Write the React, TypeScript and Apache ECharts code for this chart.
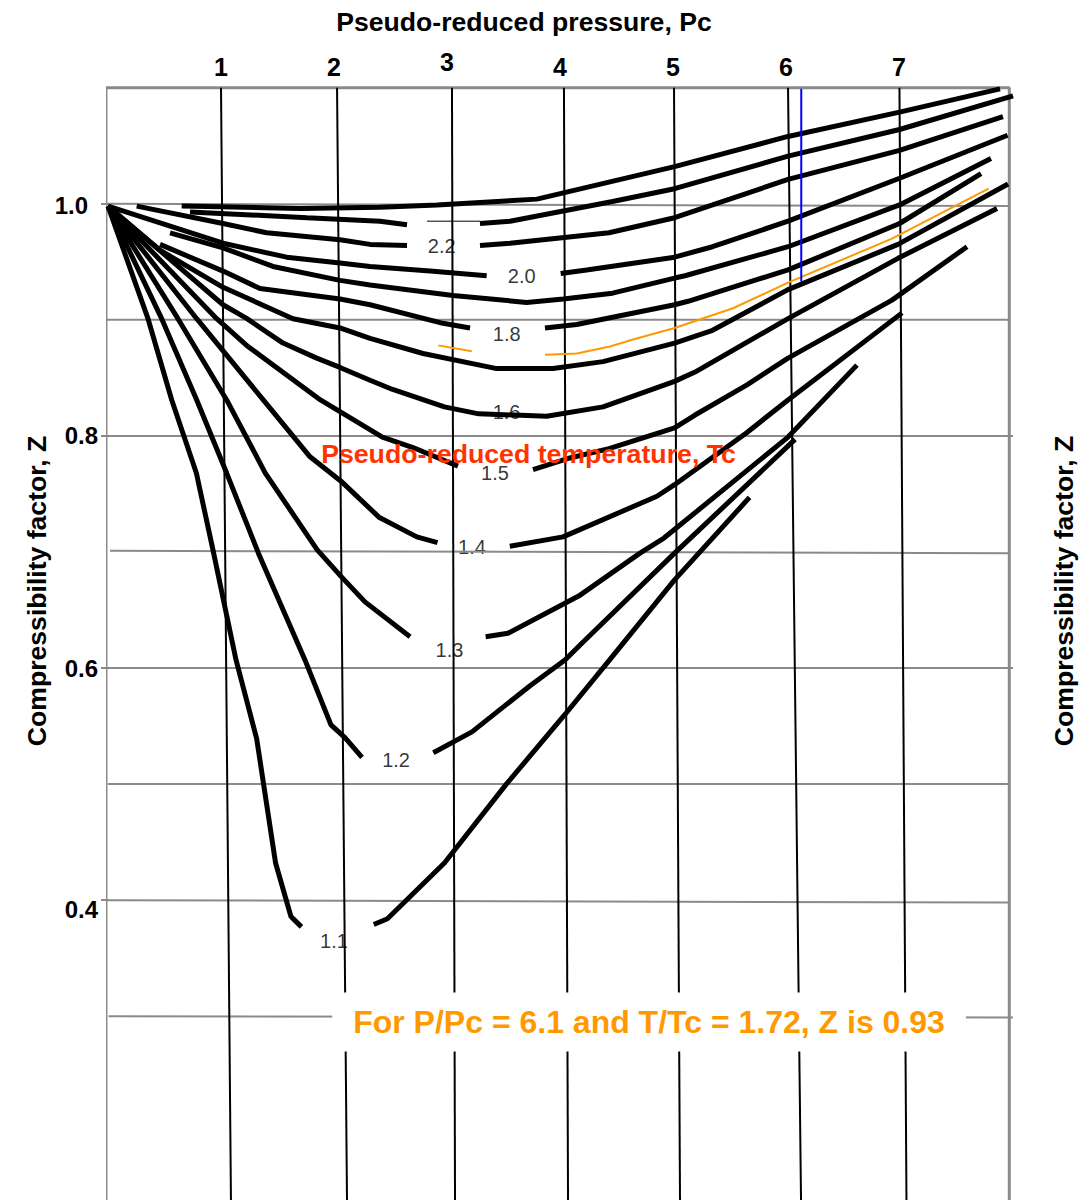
import { useEffect, useRef } from "react";
import * as echarts from "echarts";

const FONT = '"Liberation Sans", Arial, Helvetica, sans-serif';

// Axis ranges (pseudo-reduced pressure on x, compressibility factor Z on y)
const P_MIN = 0;
const P_MAX = 8;
const Z_MAX = 1.1;
const Z_MIN = 0.1417;

const P_TICKS = [1, 2, 3, 4, 5, 6, 7];
const Z_TICKS = [0.4, 0.6, 0.8, 1.0];

// Hand-drawn grid lines (slightly tilted in the original)
const H_GRID_Z_LEFT = [1.0, 0.9, 0.8, 0.701, 0.6, 0.5, 0.4, 0.3];
const H_GRID_Z_RIGHT = [0.998, 0.9, 0.8, 0.699, 0.6, 0.5, 0.398, 0.299];
const H_GRID_P_LEFT = [-0.01, -0.01, -0.071, 0.018, -0.071, -0.003, 0.0, 0.005];
const H_GRID_P_RIGHT = [7.974, 7.974, 8.009, 7.974, 8.009, 7.974, 7.974, 8.009];
const V_GRID_P_TOP = [1.0, 2.027, 3.044, 4.035, 5.009, 6.018, 7.004];
const V_GRID_P_BOTTOM = [1.088, 2.115, 3.071, 4.071, 5.062, 6.133, 7.066];
const FRAME_P_LEFT = -0.018;
const FRAME_P_RIGHT = 7.976;

// Isotherm curves (Tpr). "a" = left of the label gap, "b" = right of it.
const line30 = [[0.652, 0.998], [1.699, 0.996], [2.407, 0.997], [2.912, 0.999], [3.796, 1.004], [5.014, 1.032], [6.018, 1.058], [7.005, 1.079], [7.894, 1.099]];
const line24a = [[0.726, 0.993], [1.761, 0.988], [2.407, 0.985], [2.646, 0.982]];
const line24b = [[3.292, 0.983], [3.558, 0.985], [4.465, 1.002], [5.014, 1.013], [6.018, 1.041], [7.005, 1.064], [8.009, 1.093]];
const gapStroke = [[2.823, 0.985], [3.292, 0.985]];
const line22a = [[0.254, 0.998], [1.018, 0.983], [1.404, 0.975], [2.053, 0.969], [2.319, 0.965], [2.646, 0.964]];
const line22b = [[3.292, 0.964], [3.558, 0.966], [4.434, 0.975], [5.014, 0.988], [5.35, 0.999], [6.018, 1.021], [7.005, 1.046], [7.92, 1.075]];
const line20a = [[0, 0.998], [1.018, 0.966], [1.581, 0.954], [2.053, 0.949], [2.319, 0.946], [2.85, 0.942], [3.351, 0.938]];
const line20b = [[4.006, 0.94], [4.236, 0.943], [5.014, 0.954], [5.35, 0.963], [6.018, 0.985], [7.005, 1.022], [7.961, 1.059]];
const line19 = [[0.549, 0.975], [1.018, 0.962], [1.46, 0.946], [2.053, 0.934], [2.319, 0.93], [3.053, 0.921], [3.705, 0.915], [4.029, 0.918], [4.465, 0.923], [5.014, 0.936], [5.106, 0.938], [6.018, 0.963], [7.005, 0.999], [7.814, 1.039]];
const line18a = [[0.46, 0.965], [1.018, 0.942], [1.345, 0.927], [2.053, 0.918], [2.319, 0.913], [2.965, 0.897], [3.204, 0.893]];
const line18b = [[3.867, 0.893], [4.148, 0.896], [5.014, 0.913], [5.133, 0.916], [6.018, 0.943], [7.005, 0.983], [7.726, 1.026]];
const line172a = [[2.923, 0.878], [3.219, 0.873]];
const line172b = [[3.867, 0.87], [4.148, 0.871], [4.442, 0.877], [4.646, 0.883], [5.014, 0.893], [5.531, 0.91], [6.018, 0.932], [6.938, 0.97], [7.793, 1.013]];
const line17 = [[0, 0.998], [0.46, 0.96], [1.018, 0.928], [1.637, 0.901], [2.053, 0.893], [2.319, 0.884], [2.788, 0.871], [3.44, 0.858], [3.938, 0.858], [4.381, 0.864], [5.014, 0.88], [5.35, 0.891], [6.018, 0.926], [6.991, 0.965], [7.965, 1.017]];
const line16 = [[0, 0.998], [1.018, 0.913], [1.23, 0.901], [1.549, 0.88], [1.847, 0.867], [2.053, 0.859], [2.319, 0.848], [2.519, 0.84], [2.977, 0.825], [3.281, 0.819], [3.882, 0.817], [4.381, 0.825], [5.014, 0.847], [5.195, 0.855], [6.018, 0.901], [6.991, 0.953], [7.867, 0.996]];
const line15a = [[0, 0.998], [0.962, 0.901], [1.239, 0.877], [1.88, 0.831], [2.428, 0.799], [2.699, 0.79], [3.097, 0.774]];
const line15b = [[3.761, 0.771], [4.088, 0.781], [4.434, 0.789], [5.014, 0.807], [5.195, 0.818], [5.655, 0.844], [6.018, 0.867], [6.938, 0.917], [7.602, 0.963]];
const line14a = [[0, 0.998], [0.785, 0.901], [1.374, 0.831], [1.788, 0.782], [2.062, 0.761], [2.398, 0.73], [2.733, 0.713], [2.916, 0.708]];
const line14b = [[3.556, 0.705], [4.027, 0.713], [4.858, 0.748], [5.014, 0.758], [5.655, 0.803], [6.018, 0.831], [7.027, 0.906]];
const line13a = [[0, 0.998], [0.619, 0.901], [1.05, 0.831], [1.392, 0.768], [1.85, 0.702], [2.062, 0.679], [2.274, 0.657], [2.673, 0.627]];
const line13b = [[3.342, 0.627], [3.54, 0.63], [4.165, 0.662], [4.708, 0.699], [4.92, 0.712], [6.018, 0.799], [6.628, 0.861]];
const line12a = [[0, 0.998], [0.475, 0.901], [0.785, 0.831], [1.05, 0.768], [1.331, 0.699], [1.743, 0.607], [1.973, 0.551], [2.097, 0.54], [2.248, 0.523]];
const line12b = [[2.879, 0.527], [3.221, 0.545], [3.738, 0.585], [4.044, 0.607], [4.189, 0.621], [5.014, 0.699], [6.08, 0.797]];
const line11a = [[0, 0.998], [0.354, 0.901], [0.564, 0.831], [0.782, 0.768], [0.935, 0.699], [1.133, 0.607], [1.316, 0.539], [1.483, 0.432], [1.619, 0.386], [1.712, 0.377]];
const line11b = [[2.352, 0.379], [2.473, 0.384], [2.977, 0.432], [3.525, 0.5], [4.044, 0.56], [4.439, 0.607], [5.014, 0.676], [5.677, 0.747]];

// Reading for the worked example: P/Pc = 6.1 up to the 1.72 curve
const BLUE_P = 6.135;
const BLUE_Z = [1.099, 0.933];

// Curve labels
const T_LABELS = ["2.2", "2.0", "1.8", "1.6", "1.5", "1.4", "1.3", "1.2", "1.1"];
const LABEL_P = [2.953, 3.661, 3.528, 3.527, 3.425, 3.221, 3.022, 2.549, 2.0];
const LABEL_Z = [0.9636, 0.9378, 0.8876, 0.8206, 0.7683, 0.7046, 0.6156, 0.5208, 0.3652];

const BLACK_SEGMENTS = [
  line30, line24a, line24b, line22a, line22b, line20a, line20b, line19,
  line18a, line18b, line17, line16, line15a, line15b, line14a, line14b,
  line13a, line13b, line12a, line12b, line11a, line11b,
];
const ORANGE_SEGMENTS = [line172a, line172b];

const GRID_GRAY = "#8a8a8a";

function lineSeries(data: any[], color: string, width: number, z = 2) {
  return {
    type: "line",
    data,
    symbol: "none",
    showSymbol: false,
    clip: false,
    silent: true,
    z,
    lineStyle: { color, width, cap: "butt" },
    emphasis: { disabled: true },
  };
}

function buildOption() {
  const series: any[] = [];

  series.push({
    type: "scatter",
    data: LABEL_P.map((p, i) => [p, LABEL_Z[i]]),
    symbolSize: 1,
    itemStyle: { color: "rgba(0,0,0,0)" },
    silent: true,
    z: 1,
    label: {
      show: true,
      position: "inside",
      formatter: (p: any) => T_LABELS[p.dataIndex],
      fontSize: 20,
      fontFamily: FONT,
      color: "#000",
    },
  });

  H_GRID_Z_LEFT.forEach((zl, i) => {
    series.push(lineSeries([[H_GRID_P_LEFT[i], zl], [H_GRID_P_RIGHT[i], H_GRID_Z_RIGHT[i]]], GRID_GRAY, 2));
  });
  // frame
  series.push(lineSeries([[FRAME_P_LEFT, Z_MIN], [FRAME_P_LEFT, Z_MAX], [FRAME_P_RIGHT, Z_MAX], [FRAME_P_RIGHT, Z_MIN]], GRID_GRAY, 3));

  V_GRID_P_TOP.forEach((pt, i) => {
    series.push(lineSeries([[pt, Z_MAX], [V_GRID_P_BOTTOM[i], Z_MIN]], "#000", 2));
  });

  series.push(lineSeries(gapStroke, "#000", 1));
  BLACK_SEGMENTS.forEach((seg) => series.push(lineSeries(seg, "#000", 5)));
  ORANGE_SEGMENTS.forEach((seg) => series.push(lineSeries(seg, "#FF9900", 2)));
  series.push(lineSeries([[BLUE_P, BLUE_Z[0]], [BLUE_P, BLUE_Z[1]]], "#0000FF", 2));

  const txt = (text: string, x: number, y: number, size: number, color: string, weight: string, rotation = 0, extra: any = {}) => ({
    type: "text",
    x,
    y,
    rotation,
    z: 100,
    silent: true,
    style: {
      text,
      fontSize: size,
      fontWeight: weight,
      fontFamily: FONT,
      fill: color,
      align: "center",
      verticalAlign: "middle",
      textAlign: "center",
      textVerticalAlign: "middle",
      ...extra,
    },
  });

  return {
    animation: false,
    backgroundColor: "#fff",
    grid: { left: 108, right: 69, top: 87.7, bottom: 0, containLabel: false, outerBoundsMode: "none" },
    xAxis: {
      type: "value",
      min: P_MIN,
      max: P_MAX,
      position: "top",
      axisLine: { show: false },
      axisTick: { show: false },
      splitLine: { show: false },
      axisLabel: {
        customValues: P_TICKS,
        margin: 8,
        color: "#000",
        fontSize: 25,
        fontWeight: "bold",
        fontFamily: FONT,
        formatter: (v: number) => (v === 3 ? "{r|3}" : "{n|" + v + "}"),
        rich: {
          n: { fontSize: 25, fontWeight: "bold", fontFamily: FONT, color: "#000" },
          r: { fontSize: 25, fontWeight: "bold", fontFamily: FONT, color: "#000", padding: [0, 0, 5, 0] },
        },
      },
    },
    yAxis: {
      type: "value",
      min: Z_MIN,
      max: Z_MAX,
      axisLine: { show: false },
      splitLine: { show: false },
      axisTick: { show: true, customValues: Z_TICKS, length: 7, lineStyle: { color: GRID_GRAY, width: 2 } },
      axisLabel: {
        customValues: Z_TICKS,
        margin: 10,
        color: "#000",
        fontSize: 24,
        fontWeight: "bold",
        fontFamily: FONT,
        formatter: (v: number) => {
          const s = v.toFixed(1);
          if (Math.abs(v - 1) < 1e-6) return "{a|" + s + "}";
          if (Math.abs(v - 0.4) < 1e-6) return "{c|" + s + "}";
          return "{b|" + s + "}";
        },
        rich: {
          a: { fontSize: 24, fontWeight: "bold", fontFamily: FONT, color: "#000", padding: [4, 10, 0, 0] },
          b: { fontSize: 24, fontWeight: "bold", fontFamily: FONT, color: "#000" },
          c: { fontSize: 24, fontWeight: "bold", fontFamily: FONT, color: "#000", padding: [18, 0, 0, 0] },
        },
      },
    },
    graphic: [
      txt("Pseudo-reduced pressure, Pc", 524, 22, 26.6, "#000", "bold"),
      txt("Compressibility factor, Z", 37, 591, 26.6, "#000", "bold", Math.PI / 2),
      txt("Compressibility factor, Z", 1064, 591, 26.6, "#000", "bold", Math.PI / 2),
      txt("Pseudo-reduced temperature, Tc", 528.5, 453.5, 26.7, "#FF3300", "bold"),
      txt("For P/Pc = 6.1 and T/Tc = 1.72, Z is 0.93", 649, 1022, 32, "#FF9900", "bold", 0, {
        backgroundColor: "#fff",
        padding: [13, 21, 14, 21],
      }),
    ],
    series,
  };
}

export default function App() {
  const ref = useRef<HTMLDivElement>(null);
  useEffect(() => {
    document.body.style.margin = "0";
    const chart = echarts.init(ref.current!, null, { renderer: "svg" });
    chart.setOption(buildOption() as any);
    return () => chart.dispose();
  }, []);
  return <div ref={ref} style={{ width: 1081, height: 1200 }} />;
}
